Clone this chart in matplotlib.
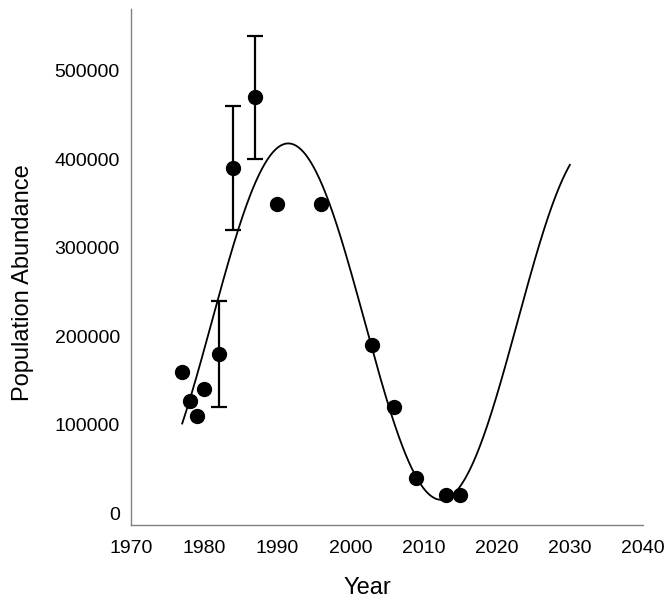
import numpy as np
import matplotlib
matplotlib.use("Agg")
import matplotlib.pyplot as plt

plt.rcParams['font.family'] = ['Liberation Sans', 'DejaVu Sans']

# observed counts
years = [1977, 1978, 1979, 1980, 1982, 1984, 1987, 1990, 1996, 2003, 2006, 2009, 2013, 2015]
abundance = [160000, 127000, 110000, 140000, 180000, 390000, 470000, 350000, 350000,
             190000, 120000, 40000, 20000, 20000]

# years that carry an error bar, with their half-width
err_years = [1982, 1984, 1987]
err_vals = [180000, 390000, 470000]
err_size = [60000, 70000, 70000]

# sine model
fit_mean = 216500
fit_amp = 201500
fit_period = 41.8
fit_peak = 1991.5
fit_start, fit_end = 1977, 2030

fig = plt.figure(figsize=(6.7, 6.05), dpi=100)
ax = fig.add_axes([131/670, 80/605, 512/670, 516/605])

t = np.linspace(fit_start, fit_end, 400)
curve = fit_mean + fit_amp * np.cos(2 * np.pi * (t - fit_peak) / fit_period)
ax.plot(t, curve, color='black', lw=1.3)

ax.errorbar(err_years, err_vals, yerr=err_size, fmt='none', ecolor='black',
            elinewidth=1.6, capsize=6, capthick=1.6)
ax.plot(years, abundance, 'o', color='black', ms=10, zorder=3)

ax.set_xlim(1970, 2040)
ax.set_ylim(-13500, 570000)
ax.set_xticks(range(1970, 2041, 10))
ax.set_yticks(range(0, 500001, 100000))

for side in ['top', 'right']:
    ax.spines[side].set_visible(False)
for side in ['left', 'bottom']:
    ax.spines[side].set_color('#808080')
    ax.spines[side].set_linewidth(1.0)

ax.tick_params(axis='both', length=0, labelsize=14)
ax.tick_params(axis='x', pad=11)
ax.tick_params(axis='y', pad=8)

ax.set_xlabel('Year', fontsize=17)
ax.set_ylabel('Population Abundance', fontsize=17)
ax.xaxis.set_label_coords(0.461, -0.10)
ax.yaxis.set_label_coords(-0.19, 0.47)

fig.savefig('out.png', dpi=100)
